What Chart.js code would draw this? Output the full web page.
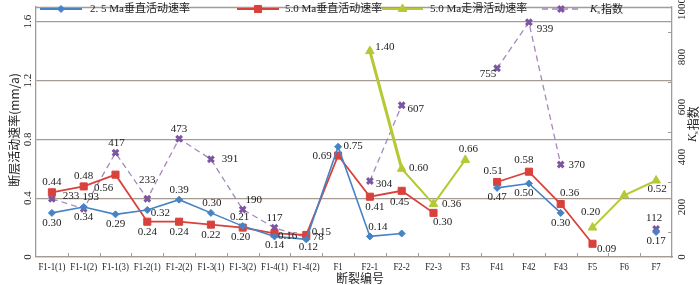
<!DOCTYPE html>
<html>
<head>
<meta charset="utf-8">
<script src="https://cdn.jsdelivr.net/npm/chart.js@4.4.0/dist/chart.umd.min.js"></script>
<style>
  html, body { margin: 0; padding: 0; background: #fff; }
  #wrap { width: 700px; height: 285px; }
</style>
</head>
<body>
<div id="wrap"><canvas id="chart"></canvas></div>
<script>
// 断裂编号
const categories = ['F1-1(1)', 'F1-1(2)', 'F1-1(3)', 'F1-2(1)', 'F1-2(2)', 'F1-3(1)', 'F1-3(2)', 'F1-4(1)', 'F1-4(2)', 'F1',
  'F2-1', 'F2-2', 'F2-3', 'F3', 'F41', 'F42', 'F43', 'F5', 'F6', 'F7'];

// 2.5 Ma 垂直活动速率 (mm/a)
const rate25 = [0.30, 0.34, 0.29, 0.32, 0.39, 0.30, 0.21, 0.14, 0.12, 0.75,
  0.14, 0.16, null, null, 0.47, 0.50, 0.30, null, null, 0.17];
// 5.0 Ma 垂直活动速率 (mm/a)
const rate50 = [0.44, 0.48, 0.56, 0.24, 0.24, 0.22, 0.20, 0.16, 0.15, 0.69,
  0.41, 0.45, 0.30, null, 0.51, 0.58, 0.36, 0.09, null, null];
// 5.0 Ma 走滑活动速率 (mm/a)
const strike50 = [null, null, null, null, null, null, null, null, null, null,
  1.40, 0.60, 0.36, 0.66, null, null, null, 0.20, 0.42, 0.52];
// K 指数
const kIndex = [233, 193, 417, 233, 473, 391, 190, 117, 78, null,
  304, 607, null, null, 755, 939, 370, null, null, 112];

const leftTickLabels = ['0', '0.4', '0.8', '1.2', '1.6'];
const rightTickLabels = ['0', '200', '400', '600', '800', '1000'];

// where each value label sits relative to its point [dx, dy], null = no label
const lblBlue = [[0,10],[0,10],[0,10],[13,3],[0,-10],[1,-10],[-3,-9],[0,9],[2,8],[15,-1],
  [8,-9],null,null,null,[0,9],[-5,10],[0,10],null,null,[0,9]];
const lblRed = [[0,-10],[0,-10],[-12,13],[0,10],[0,10],[0,10],[-2,10],[13,3],[15,-3],[-16,1],
  [5,10],[-2,11],[9,9],null,[-4,-11],[-5,-12],[9,-11],[14,5],null,null];
const lblGreen = [null,null,null,null,null,null,null,null,null,null,
  [15,-4],[17,-1],[18,0],[3,-11],null,null,null,[-2,-15],null,[1,9]];
const lblK = [[19,-3],[7,-12],[1,-10],[0,-19],[0,-10],[19,0],[11,-9],[0,-10],[12,0],null,
  [14,3],[14,4],null,null,[-9,6],[16,7],[16,1],null,null,[-2,-11]];

const serif = "'Liberation Serif', 'Times New Roman', 'Noto Sans CJK SC', serif";
const cjk = "'Noto Sans CJK SC', 'Liberation Serif', sans-serif";
const gridColor = '#a39b94';
const textColor = '#222';

function drawKText(ctx, x, y, size) {
  // italic K with small subscript s, then 指数
  ctx.textAlign = 'left';
  ctx.textBaseline = 'middle';
  ctx.font = 'italic ' + size + 'px ' + serif;
  ctx.fillText('K', x, y);
  let w = ctx.measureText('K').width;
  ctx.font = Math.round(size * 0.6) + 'px ' + serif;
  ctx.fillText('s', x + w, y + size * 0.3);
  w += ctx.measureText('s').width + 1;
  ctx.font = size + 'px ' + cjk;
  ctx.fillText('指数', x + w, y);
  return w + ctx.measureText('指数').width;
}

const decor = {
  id: 'decor',
  afterDatasetsDraw(chart) {
    const ctx = chart.ctx;
    const sets = [lblBlue, lblRed, lblGreen, lblK];
    ctx.save();
    ctx.fillStyle = textColor;
    ctx.font = '11px ' + serif;
    ctx.textAlign = 'center';
    ctx.textBaseline = 'middle';
    sets.forEach((offs, d) => {
      const meta = chart.getDatasetMeta(d);
      const vals = chart.data.datasets[d].data;
      vals.forEach((v, i) => {
        if (v === null || !offs[i]) return;
        const el = meta.data[i];
        const txt = d === 3 ? String(v) : v.toFixed(2);
        ctx.fillText(txt, el.x + offs[i][0], el.y + offs[i][1]);
      });
    });
    ctx.restore();
  },
  afterDraw(chart) {
    const ctx = chart.ctx;
    const ca = chart.chartArea;
    const y = chart.scales.y, y1 = chart.scales.y1, x = chart.scales.x;
    ctx.save();

    // top frame line
    ctx.strokeStyle = gridColor;
    ctx.lineWidth = 1.3;
    ctx.beginPath();
    ctx.moveTo(ca.left, ca.top + 0.5);
    ctx.lineTo(ca.right, ca.top + 0.5);
    ctx.stroke();

    // small inward ticks
    ctx.lineWidth = 1;
    ctx.beginPath();
    for (let i = 0; i < categories.length - 1; i++) {
      const px = Math.round((x.getPixelForValue(i) + x.getPixelForValue(i + 1)) / 2) + 0.5;
      ctx.moveTo(px, ca.bottom);
      ctx.lineTo(px, ca.bottom - 4);
    }
    for (let v = 100; v <= 1000; v += 200) {
      const py = Math.round(y1.getPixelForValue(v)) + 0.5;
      ctx.moveTo(ca.right, py);
      ctx.lineTo(ca.right - 4, py);
    }
    ctx.stroke();

    // category labels, slightly condensed
    ctx.fillStyle = textColor;
    ctx.font = '11px ' + serif;
    ctx.textAlign = 'center';
    ctx.textBaseline = 'middle';
    categories.forEach((c, i) => {
      ctx.save();
      ctx.translate(x.getPixelForValue(i), 267);
      ctx.scale(0.8, 1);
      ctx.fillText(c, 0, 0);
      ctx.restore();
    });

    // rotated tick labels
    leftTickLabels.forEach(t => {
      const py = y.getPixelForValue(parseFloat(t));
      ctx.save();
      ctx.translate(28, Math.min(py, 282));
      ctx.rotate(-Math.PI / 2);
      ctx.fillText(t, 0, 0);
      ctx.restore();
    });
    rightTickLabels.forEach(t => {
      const py = y1.getPixelForValue(parseFloat(t));
      ctx.save();
      ctx.translate(682, Math.max(py, 9));
      ctx.rotate(-Math.PI / 2);
      ctx.fillText(t, 0, 0);
      ctx.restore();
    });

    // axis titles
    ctx.save();
    ctx.translate(14, 130);
    ctx.rotate(-Math.PI / 2);
    ctx.font = '12px ' + cjk;
    ctx.textAlign = 'center';
    ctx.fillText('断层活动速率(mm/a)', 0, 0);
    ctx.restore();

    ctx.save();
    ctx.translate(693, 124);
    ctx.rotate(-Math.PI / 2);
    drawKText(ctx, -18, 0, 12);
    ctx.restore();

    ctx.font = '12px ' + cjk;
    ctx.textAlign = 'center';
    ctx.textBaseline = 'middle';
    ctx.fillText('断裂编号', 360, 278);

    // legend in the top strip of the plot
    const items = [[40, 82, 90], [237, 279, 285], [382, 423, 430], [542, 580, 590]];
    const ly = 9;
    items.forEach((it, d) => {
      const ds = chart.data.datasets[d];
      ctx.save();
      ctx.strokeStyle = ds.borderColor;
      ctx.lineWidth = d === 3 ? 1.3 : 2;
      ctx.setLineDash(d === 3 ? [6, 4] : []);
      ctx.beginPath();
      ctx.moveTo(it[0], ly);
      ctx.lineTo(it[1], ly);
      ctx.stroke();
      ctx.setLineDash([]);
      ctx.fillStyle = ds.pointBackgroundColor;
      ctx.strokeStyle = ds.pointBorderColor;
      ctx.lineWidth = ds.pointBorderWidth;
      Chart.helpers.drawPoint(ctx, {
        pointStyle: ds.pointStyle, radius: ds.pointRadius, borderWidth: ds.pointBorderWidth, rotation: 0
      }, (it[0] + it[1]) / 2, ly);
      ctx.restore();
      ctx.fillStyle = textColor;
      if (d === 3) {
        drawKText(ctx, it[2], ly, 11);
      } else {
        ctx.font = '11px ' + serif;
        ctx.textAlign = 'left';
        ctx.textBaseline = 'middle';
        ctx.fillText(ds.label, it[2], ly);
      }
    });
    ctx.restore();
  }
};

const ctx = document.getElementById('chart').getContext('2d');
new Chart(ctx, {
  type: 'line',
  data: {
    labels: categories,
    datasets: [
      {
        label: '2. 5 Ma垂直活动速率',
        data: rate25,
        yAxisID: 'y',
        borderColor: '#4683c5',
        borderWidth: 1.6,
        pointStyle: 'rectRot',
        pointRadius: 3.5,
        pointBackgroundColor: '#4683c5',
        pointBorderColor: '#4683c5',
        pointBorderWidth: 1
      },
      {
        label: '5.0 Ma垂直活动速率',
        data: rate50,
        yAxisID: 'y',
        borderColor: '#d9413b',
        borderWidth: 1.8,
        pointStyle: 'rect',
        pointRadius: 5,
        pointBackgroundColor: '#d9413b',
        pointBorderColor: '#d9413b',
        pointBorderWidth: 1
      },
      {
        label: '5.0 Ma走滑活动速率',
        data: strike50,
        yAxisID: 'y',
        borderColor: '#b6c935',
        borderWidth: 2,
        segment: { borderWidth: c => (c.p0DataIndex === 10 ? 3 : 2) },
        pointStyle: 'triangle',
        pointRadius: 5,
        pointBackgroundColor: '#b6c935',
        pointBorderColor: '#b6c935',
        pointBorderWidth: 1
      },
      {
        label: 'Ks指数',
        data: kIndex,
        yAxisID: 'y1',
        borderColor: '#a688ba',
        borderWidth: 1.3,
        borderDash: [6, 4],
        pointStyle: 'crossRot',
        pointRadius: 4,
        pointBackgroundColor: '#7d55a1',
        pointBorderColor: '#7d55a1',
        pointBorderWidth: 3
      }
    ]
  },
  options: {
    responsive: true,
    maintainAspectRatio: false,
    animation: false,
    spanGaps: false,
    layout: { padding: { top: 2, left: 0, right: 0, bottom: 0 } },
    elements: { line: { tension: 0 } },
    plugins: { legend: { display: false }, tooltip: { enabled: false } },
    scales: {
      x: {
        offset: true,
        grid: { display: false },
        border: { display: true, color: gridColor, width: 1.3 },
        ticks: { display: false, autoSkip: false, maxRotation: 0 },
        afterFit: s => { s.height = 28; }
      },
      y: {
        position: 'left',
        min: 0, max: 1.7,
        ticks: { stepSize: 0.4, includeBounds: false, display: false },
        grid: { color: gridColor, lineWidth: 1.3, drawTicks: false },
        border: { display: true, color: gridColor, width: 1.3 },
        afterFit: s => { s.width = 36; }
      },
      y1: {
        position: 'right',
        min: 0, max: 1000,
        ticks: { stepSize: 200, display: false },
        grid: { drawOnChartArea: false, drawTicks: false },
        border: { display: true, color: gridColor, width: 1.3 },
        afterFit: s => { s.width = 28; }
      }
    }
  },
  plugins: [decor]
});
</script>
</body>
</html>
